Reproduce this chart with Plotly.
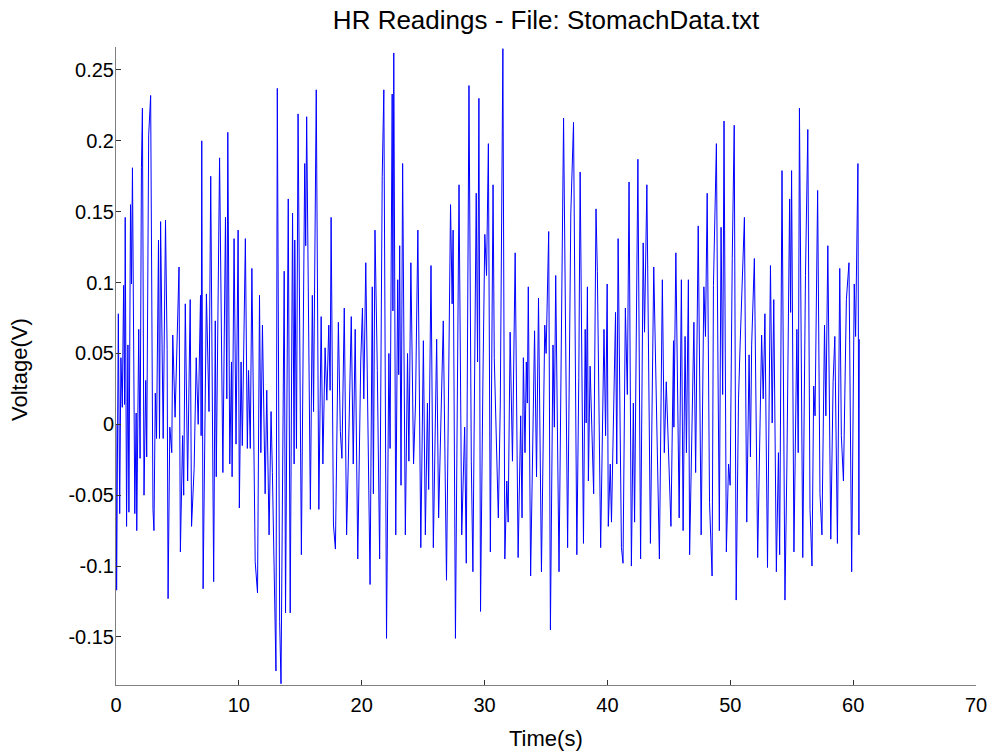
import plotly.graph_objects as go

# Time (s) of turning points
time_s = [
    0.00, 0.05, 0.19, 0.30, 0.40, 0.51, 0.62, 0.70, 0.75, 0.86, 0.97, 1.05, 1.18, 1.26, 1.34,
    1.53, 1.64, 1.69, 1.85, 1.96, 2.07, 2.15, 2.28, 2.42, 2.50, 2.66, 2.82, 3.01, 3.09, 3.20,
    3.30, 3.46, 3.54, 3.63, 3.84, 4.03, 4.16, 4.24, 4.38, 4.54, 4.62, 4.81, 5.13, 5.24, 5.42,
    5.51, 5.64, 5.83, 6.04, 6.15, 6.36, 6.53, 6.69, 6.88, 6.93, 6.98, 7.09,
    7.36, 7.57, 7.71, 7.95, 8.08, 8.16, 8.43, 8.70, 8.91, 9.02, 9.10, 9.26, 9.40, 9.45, 9.61,
    9.77, 9.94, 10.04, 10.18, 10.28, 10.53, 10.69, 10.79, 10.93, 11.06, 11.33, 11.52, 11.68,
    11.79, 11.92, 12.14, 12.27, 12.46, 12.62, 12.73, 13.02, 13.13, 13.32, 13.43, 13.69, 13.80,
    14.02, 14.18, 14.37, 14.50,
    14.55, 14.69, 14.82, 15.09, 15.36, 15.44, 15.52, 15.82, 15.98, 16.08, 16.30, 16.51, 16.70,
    16.84, 17.02, 17.16, 17.32, 17.43, 17.51, 17.70, 17.86, 18.10, 18.26, 18.39, 18.58, 18.77,
    18.90, 19.15, 19.31, 19.47, 19.68, 19.92, 20.06, 20.17, 20.33, 20.68, 20.86, 20.95, 21.08,
    21.27, 21.46, 21.67, 21.80, 22.02, 22.21, 22.31, 22.48, 22.54,
    22.61, 22.77, 22.93, 23.01, 23.09, 23.20, 23.33, 23.55, 23.73, 23.84, 24.00, 24.22, 24.38,
    24.57, 24.81, 25.02, 25.18, 25.35, 25.45, 25.64, 25.83, 26.10, 26.26, 26.64, 26.90, 27.23,
    27.36, 27.44, 27.63, 27.92, 28.14, 28.38, 28.51, 28.73, 28.92, 29.05, 29.32, 29.43, 29.54,
    29.67, 29.86, 30.02, 30.16,
    30.31, 30.47, 30.69, 30.79, 31.12, 31.28, 31.38, 31.49, 31.65, 31.81, 31.92, 32.08, 32.27,
    32.49, 32.73, 32.94, 33.05, 33.16, 33.29, 33.40, 33.48, 33.56, 33.75, 33.91, 34.07, 34.23,
    34.39, 34.63, 34.90, 35.01, 35.14, 35.22, 35.36, 35.57, 35.68, 35.79, 36.06, 36.22, 36.43,
    36.76, 37.02, 37.24, 37.51, 37.67, 37.78,
    38.05, 38.19, 38.27, 38.37, 38.45, 38.59, 38.88, 39.07, 39.18, 39.45, 39.72, 39.85, 39.98,
    40.07, 40.23, 40.33, 40.66, 40.76, 40.87, 41.14, 41.27, 41.46, 41.62, 41.76, 41.95, 42.11,
    42.21, 42.48, 42.70, 42.91, 43.02, 43.21, 43.50, 43.77, 44.23, 44.47, 44.63, 44.79, 45.17,
    45.38,
    45.41, 45.57, 45.84, 46.02, 46.16, 46.32, 46.43, 46.59, 46.69, 46.91, 47.04, 47.18, 47.39,
    47.63, 47.85, 47.98, 48.12, 48.31, 48.52, 48.63, 48.87, 49.00, 49.11, 49.25, 49.38, 49.49,
    49.68, 49.86, 49.99, 50.16, 50.32, 50.48, 50.67, 50.80, 51.15, 51.34, 51.53, 51.64, 51.74,
    51.96, 52.07, 52.23, 52.55, 52.68, 52.82, 53.03,
    53.27, 53.41, 53.54, 53.75, 53.92, 54.02, 54.21, 54.45, 54.61, 54.83, 54.91, 54.99, 55.18,
    55.42, 55.53, 55.63, 55.90, 56.12, 56.31, 56.49, 56.65, 56.79, 56.90, 57.11, 57.30, 57.46,
    57.67, 57.78, 57.94, 58.18, 58.37, 58.51, 58.72, 58.91, 59.04, 59.21, 59.45, 59.66, 59.88,
    60.09, 60.20, 60.39, 60.47, 60.50,
]

# Voltage (V) at those points
voltage_v = [
    0.000, -0.117, 0.078, -0.063, 0.047, 0.012, 0.098, 0.014, 0.146, -0.072, 0.056, -0.062, 0.155, 0.099, 0.181,
    -0.063, 0.008, -0.075, 0.067, -0.024, 0.181, 0.223, -0.050, 0.031, -0.023, 0.204, 0.232, -0.060, -0.075, 0.022,
    -0.010, 0.130, -0.010, 0.143, -0.010, 0.144, 0.053, -0.123, -0.002, -0.020, 0.063, 0.005, 0.111, -0.090, -0.008,
    -0.050, 0.085, -0.040, 0.088, -0.072, -0.031, 0.047, 0.000, 0.091, -0.008, 0.200, -0.116,
    0.092, 0.009, 0.175, -0.111, 0.073, -0.037, 0.188, -0.034, 0.146, 0.018, 0.206, -0.028, 0.044, -0.037, 0.131,
    -0.014, 0.137, -0.059, 0.044, -0.015, 0.131, -0.017, 0.038, -0.017, 0.110, -0.097, -0.119, 0.091,
    -0.020, 0.070, -0.049, 0.024, -0.078, 0.009, -0.034, -0.174, 0.237, -0.139, -0.183, 0.108, -0.133,
    0.159, -0.133, 0.149, -0.028,
    0.130, -0.017, 0.219, -0.092, 0.184, 0.126, 0.217, -0.060, 0.091, 0.009, 0.236, -0.060, 0.076,
    -0.028, 0.054, 0.017, 0.070, 0.024, 0.146, -0.071, -0.088, 0.072, -0.005, -0.024, 0.082, -0.078,
    -0.030, 0.076, -0.028, 0.067, -0.095, 0.044, 0.082, 0.018, 0.114, -0.113, 0.097, -0.049, 0.137,
    0.038, -0.095, 0.175, 0.236, -0.151, 0.050, -0.017, 0.233, 0.080,
    0.262, -0.078, 0.102, 0.035, 0.126, -0.043, 0.184, -0.078, 0.050, -0.026, 0.114, -0.028, 0.015,
    0.137, -0.087, 0.059, -0.078, 0.015, -0.046, 0.112, -0.087, 0.060, -0.066, 0.073, -0.110, 0.155,
    0.085, 0.137, -0.151, 0.169, -0.078, -0.002, -0.098, 0.239, -0.026, -0.104, 0.163, 0.044, 0.230,
    -0.132, 0.027, 0.134, 0.105,
    0.198, -0.090, 0.169, 0.047, -0.066, 0.015, 0.168, 0.265, -0.095, -0.040, -0.069, 0.065, -0.026,
    0.121, -0.094, 0.006, -0.066, 0.047, -0.020, 0.044, 0.015, 0.097, -0.107, -0.031, 0.066, -0.037,
    0.089, -0.104, 0.070, 0.050, 0.117, 0.136, -0.145, 0.056, -0.002, 0.105, -0.104, 0.038, 0.216,
    -0.087, 0.149, 0.213, -0.092, 0.033, 0.178,
    -0.084, 0.067, 0.001, 0.097, -0.040, 0.041, -0.049, 0.152, 0.108, -0.087, 0.067, -0.008, 0.099,
    -0.072, -0.028, -0.069, 0.079, -0.028, 0.131, -0.087, -0.098, 0.082, 0.021, 0.171, -0.100, 0.015,
    -0.069, 0.187, -0.095, 0.128, 0.065, 0.169, -0.084, 0.111, -0.095, 0.102, -0.020, 0.030, -0.072,
    0.059,
    -0.002, 0.121, -0.066, 0.102, -0.075, 0.062, -0.020, 0.102, -0.092, 0.030, 0.072, -0.034, 0.140,
    -0.078, 0.097, 0.062, 0.163, -0.055, -0.107, 0.098, 0.198, 0.037, -0.075, 0.139, 0.021, 0.214,
    -0.090, -0.028, -0.043, 0.117, 0.211, -0.124, 0.018, 0.056, 0.146, -0.069, 0.049, -0.023, 0.056,
    0.117, 0.021, -0.094, 0.063, 0.018, 0.078, -0.101,
    0.112, 0.001, 0.088, -0.104, -0.020, -0.092, 0.179, -0.124, -0.028, 0.159, 0.079, 0.179, -0.090,
    0.067, -0.020, 0.223, -0.094, 0.105, 0.208, -0.060, -0.100, 0.027, 0.006, 0.165, -0.049, -0.078,
    0.070, 0.006, 0.126, -0.081, 0.030, 0.062, -0.084, 0.110, -0.008, -0.040, 0.088, 0.114, -0.104,
    0.099, 0.062, 0.184, -0.078, 0.060,
]

x_ticks = [0, 10, 20, 30, 40, 50, 60, 70]
y_ticks = [-0.15, -0.1, -0.05, 0, 0.05, 0.1, 0.15, 0.2, 0.25]
y_tick_text = ["-0.15", "-0.1", "-0.05", "0", "0.05", "0.1", "0.15", "0.2", "0.25"]

FONT = "Liberation Sans, Arial, sans-serif"

fig = go.Figure()
fig.add_trace(go.Scatter(x=time_s, y=voltage_v, mode="lines",
                         line=dict(color="#0000FF", width=1), showlegend=False,
                         hoverinfo="skip"))

axis_common = dict(showgrid=False, zeroline=False, showline=True, linecolor="#7f7f7f",
                   linewidth=1, ticks="inside", ticklen=5, tickcolor="#333333",
                   tickfont=dict(family=FONT, size=20, color="black"), mirror=False)

fig.update_layout(
    width=999, height=754,
    margin=dict(l=116, r=14, t=47, b=69, pad=0),
    paper_bgcolor="white", plot_bgcolor="white",
    xaxis=dict(range=[0, 70], tickvals=x_ticks, ticklabelstandoff=2, **axis_common),
    yaxis=dict(range=[-0.1839, 0.2662], tickvals=y_ticks, ticktext=y_tick_text,
               ticklabelstandoff=-3, **axis_common),
    title=dict(text="HR Readings - File: StomachData.txt", x=0.5, xref="paper",
               y=1 - 20 / 754, yref="container", yanchor="middle", xanchor="center",
               font=dict(family=FONT, size=26, color="black")),
    annotations=[
        dict(text="Time(s)", xref="paper", yref="paper", x=0.5, y=(685 - 738) / 638,
             xanchor="center", yanchor="middle", showarrow=False,
             font=dict(family=FONT, size=22, color="black")),
        dict(text="Voltage(V)", xref="paper", yref="paper", x=(18 - 116) / 869, y=(685 - 370) / 638,
             xanchor="center", yanchor="middle", textangle=-90, showarrow=False,
             font=dict(family=FONT, size=22, color="black")),
    ],
)

fig.write_html("out.html")
